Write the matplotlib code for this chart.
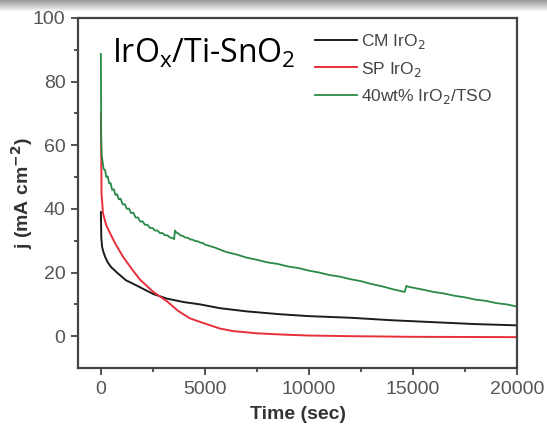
import numpy as np
import matplotlib
matplotlib.use('Agg')
import matplotlib.pyplot as plt

# ── Data ────────────────────────────────────────────────────────────────────
t_cm = [0, 20, 60, 120, 200, 320, 480, 770, 1200, 1875, 2500, 3170, 4000,
        4760, 5720, 7000, 8600, 10000, 11970, 14000, 16000, 18000, 20000]
j_cm = [39, 31, 28, 26.5, 25, 23.3, 21.8, 20, 17.6, 15.4, 13.3, 11.8, 10.7,
        10, 8.8, 7.8, 6.9, 6.3, 5.8, 5.0, 4.4, 3.8, 3.4]

t_sp = [0, 30, 100, 250, 430, 700, 1060, 1500, 1875, 2500, 3170, 3700,
        4280, 4760, 5720, 6350, 7500, 8750, 10000, 12000, 15000, 20000]
j_sp = [70, 45, 38.7, 35, 32.5, 29, 25, 21, 17.8, 14, 11, 8,
        5.6, 4.5, 2.4, 1.6, 0.9, 0.5, 0.2, 0.0, -0.2, -0.3]

t_tso = [0, 15, 40, 80, 130, 200, 260, 330, 400, 470, 540, 620, 700, 780,
         860, 950, 1050, 1150, 1250, 1350, 1450, 1560, 1670, 1780, 1890,
         2000, 2120, 2240, 2360, 2480, 2600, 2720, 2840, 2960, 3080, 3200,
         3320, 3440, 3520, 3560, 3640, 3720, 3820, 3940, 4060, 4180, 4300,
         4420, 4540, 4660, 4780, 4900, 5000, 5500, 6000, 6500, 7000, 7500,
         8000, 8500, 9000, 9500, 10000, 10500, 11000, 11500, 12000, 12500,
         13000, 13500, 14000, 14600, 14680, 14800, 15500, 16000, 16500,
         17000, 17500, 18000, 18500, 19000, 19500, 20000]
j_tso = [88.7, 62, 57, 55, 52.5, 52.3, 50, 50.2, 48, 48.1, 46, 46.2, 44.4,
         44.6, 43, 43.2, 41.4, 41.5, 40, 40.1, 38.7, 38.8, 37.3, 37.3, 36,
         36.1, 35, 35, 34, 34, 33.2, 33.2, 32.4, 32.4, 31.7, 31.7,
         31, 30.9, 30.5, 33.2, 32.5, 32.3, 31.7, 31.5, 31, 30.9, 30.4,
         30.3, 29.9, 29.8, 29.4, 29.3, 28.8, 27.8, 26.5, 25.7, 24.7, 24.0,
         23.2, 22.7, 21.9, 21.4, 20.6, 20.0, 19.2, 18.7, 17.9, 17.3,
         16.4, 15.7, 14.8, 13.9, 15.8, 15.5, 14.6, 13.9, 13.4,
         12.7, 12.2, 11.5, 11.1, 10.4, 10.0, 9.3]

labels = ['CM IrO$_2$', 'SP IrO$_2$', '40wt% IrO$_2$/TSO']
colors = ['#1c1c1c', '#e8303a', '#2a8a48']

plt.rcParams['font.family'] = ['Liberation Sans', 'DejaVu Sans']

fig = plt.figure(figsize=(5.47, 4.26), dpi=100)

# grey screenshot band along the top edge
band = fig.add_axes([0, 1 - 12 / 426, 1, 12 / 426], zorder=-1)
grad = np.linspace(0.6, 1.0, 50).reshape(-1, 1)
band.imshow(grad, cmap='gray', vmin=0, vmax=1, aspect='auto',
            extent=[0, 1, 0, 1])
band.axis('off')

ax = fig.add_axes([78 / 547, 1 - 368 / 426, 439 / 547, 350 / 426])

ax.plot(t_cm, j_cm, color=colors[0], lw=1.4, label=labels[0])
ax.plot(t_sp, j_sp, color=colors[1], lw=1.4, label=labels[1])
ax.plot(t_tso, j_tso, color=colors[2], lw=1.3, label=labels[2])

ax.set_xlim(-1100, 20000)
ax.set_ylim(-10, 100)
ax.set_xticks([0, 5000, 10000, 15000, 20000])
ax.set_xticks(np.arange(2500, 20000, 5000), minor=True)
ax.set_yticks([0, 20, 40, 60, 80, 100])
ax.set_yticks(np.arange(10, 100, 20), minor=True)
ax.tick_params(which='both', direction='out', color='#444444', width=1.3,
               labelsize=14, labelcolor='#555555')
ax.tick_params(which='major', length=5, pad=4)
ax.tick_params(which='minor', length=3)
for sp in ax.spines.values():
    sp.set_color('#444444')
    sp.set_linewidth(1.6)

ax.set_xlabel('Time (sec)', fontsize=14, fontweight='bold', color='#333333',
              labelpad=6)
ax.set_ylabel('j (mA cm$^{\\mathbf{-2}}$)', fontsize=14, fontweight='bold',
              color='#333333')
ax.yaxis.set_label_coords(-0.098, 0.5)

ax.legend(loc='upper left', bbox_to_anchor=(0.505, 1.005), frameon=False,
          fontsize=12.5, handlelength=2.4, handletextpad=0.25,
          labelspacing=0.5, labelcolor='#444444')

ax.text(0.078, 0.945, 'IrO$_\\mathregular{x}$/Ti-SnO$_\\mathregular{2}$',
        transform=ax.transAxes, fontsize=23, family='Open Sans',
        va='top', ha='left', color='black')

fig.savefig('out.png', dpi=100)
